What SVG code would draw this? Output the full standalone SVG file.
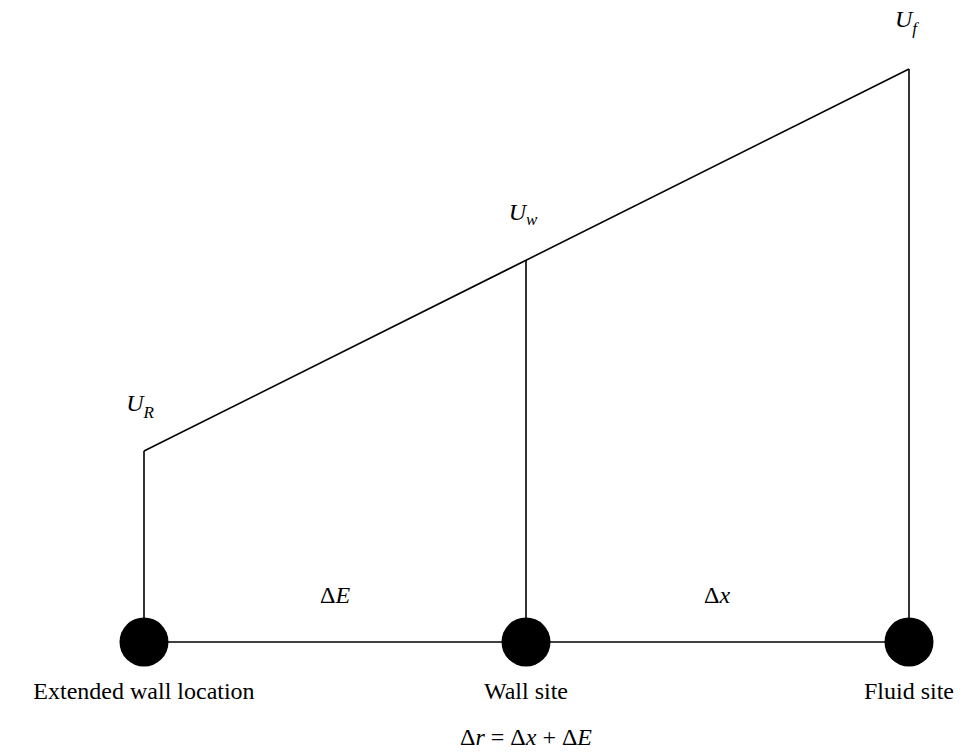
<svg xmlns="http://www.w3.org/2000/svg" width="969" height="753" viewBox="0 0 969 753">
<style>
.l{stroke:#000;stroke-width:1.6;fill:none}
.t{font-family:"Liberation Serif",serif;font-size:24px;fill:#000;text-anchor:middle}
.i{font-style:italic}
.s{font-size:17px;font-style:italic}
</style>
<rect width="969" height="753" fill="#fff"/>
<g id="connectors">
<line class="l" x1="144" y1="451" x2="909" y2="69"/>
<line class="l" x1="144" y1="451" x2="144" y2="642"/>
<line class="l" x1="526" y1="260" x2="526" y2="642"/>
<line class="l" x1="909" y1="69" x2="909" y2="642"/>
<line class="l" x1="144" y1="642" x2="909" y2="642"/>
</g>
<g id="n1"><circle cx="144" cy="642" r="24.5"/><text class="t" x="144" y="699">Extended wall location</text></g>
<g id="n2"><circle cx="526" cy="642" r="24.5"/><text class="t" x="526" y="699">Wall site</text></g>
<g id="n3"><circle cx="909" cy="642" r="24.5"/><text class="t" x="909" y="699">Fluid site</text></g>
<g id="labels">
<text class="t" x="140" y="411"><tspan class="i">U</tspan><tspan class="s" dy="7">R</tspan></text>
<text class="t" x="523" y="220"><tspan class="i">U</tspan><tspan class="s" dy="5">w</tspan></text>
<text class="t" x="906" y="27"><tspan class="i">U</tspan><tspan class="s" dy="7">f</tspan></text>
<text class="t" x="335" y="603">Δ<tspan class="i">E</tspan></text>
<text class="t" x="717" y="603">Δ<tspan class="i">x</tspan></text>
<text class="t" x="526" y="745">Δ<tspan class="i">r</tspan> = Δ<tspan class="i">x</tspan> + Δ<tspan class="i">E</tspan></text>
</g>
</svg>
